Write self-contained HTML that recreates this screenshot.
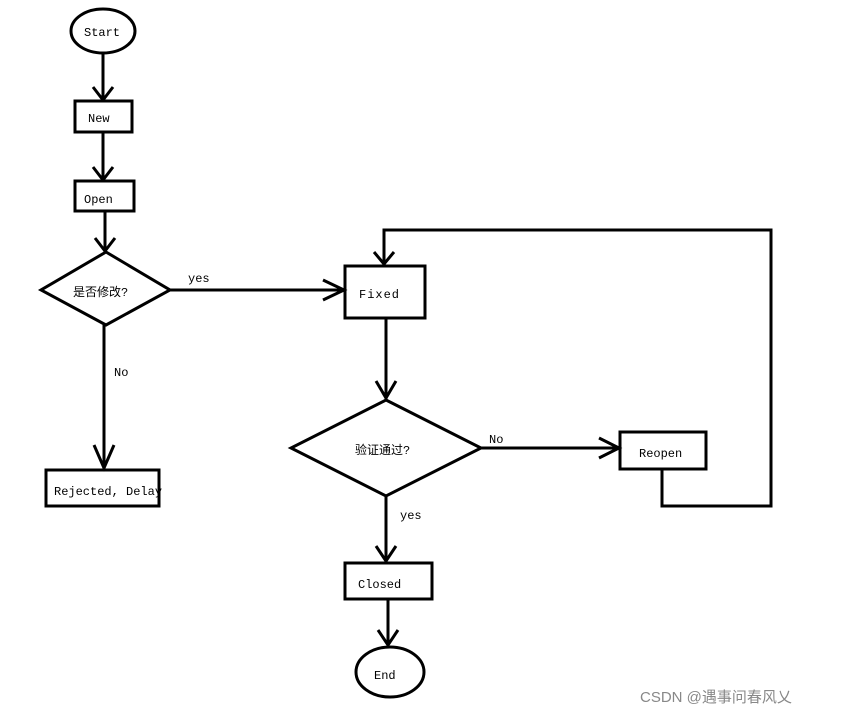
<!DOCTYPE html>
<html><head><meta charset="utf-8"><style>
html,body{margin:0;padding:0;background:#fff;}
svg text{font-family:"Liberation Mono","Noto Sans CJK SC",monospace;font-size:12px;fill:#000;}
</style></head><body>
<svg width="847" height="715" viewBox="0 0 847 715" xmlns="http://www.w3.org/2000/svg">
<g fill="none" stroke="#000" stroke-width="3">
<ellipse cx="103" cy="31" rx="32" ry="22"/>
<rect x="75" y="101" width="57" height="31"/>
<rect x="75" y="181" width="59" height="30"/>
<polygon points="106,252 170,290 106,325 41,290"/>
<rect x="345" y="266" width="80" height="52"/>
<polygon points="386,400 481,448 386,496 291,448"/>
<rect x="620" y="432" width="86" height="37"/>
<rect x="46" y="470" width="113" height="36"/>
<rect x="345" y="563" width="87" height="36"/>
<ellipse cx="390" cy="672" rx="34" ry="25"/>
<!-- connectors -->
<path d="M103 53V101M93 87L103 100L113 87"/>
<path d="M103 132V181M93 167L103 180L113 167"/>
<path d="M105 211V252M95 238L105 251L115 238"/>
<path d="M170 290H345M323 280L344 290L323 300"/>
<path d="M104 325V470M94 445L104 468L114 445"/>
<path d="M386 318V400M376 381L386 398L396 381"/>
<path d="M481 448H620M599 438L619 448L599 458"/>
<path d="M386 496V563M376 546L386 561L396 546"/>
<path d="M388 599V647M378 630L388 645L398 630"/>
<path d="M662 469V506H771V230H384V266M374 252L384 264L394 252"/>
</g>
<text x="84" y="36">Start</text>
<text x="88" y="122">New</text>
<text x="84" y="203">Open</text>
<text x="73" y="296">是否修改?</text>
<text x="188" y="282">yes</text>
<text x="114" y="376">No</text>
<text x="54" y="495">Rejected, Delay</text>
<text x="359" y="298" letter-spacing="1">Fixed</text>
<text x="355" y="454">验证通过?</text>
<text x="489" y="443">No</text>
<text x="639" y="457">Reopen</text>
<text x="400" y="519">yes</text>
<text x="358" y="588">Closed</text>
<text x="374" y="679">End</text>
<text x="640" y="702" style="font-family:'Liberation Sans','Noto Sans CJK SC',sans-serif;font-size:15px;fill:#888">CSDN @遇事问春风乂</text>
</svg>
</body></html>
